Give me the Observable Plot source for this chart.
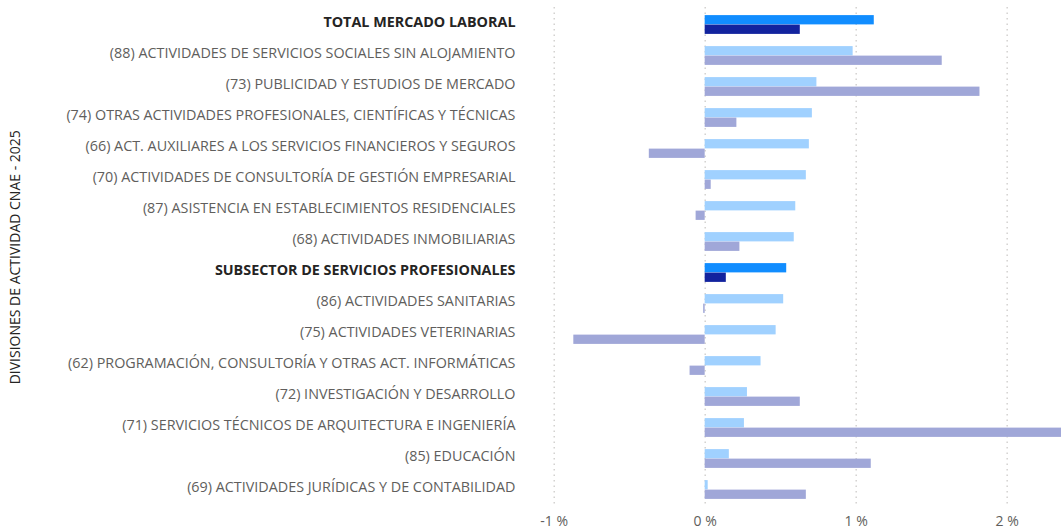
<!DOCTYPE html>
<html>
<head>
<meta charset="utf-8">
<script src="https://cdn.jsdelivr.net/npm/d3@7"></script>
<script src="https://cdn.jsdelivr.net/npm/@observablehq/plot@0.6"></script>
<style>
  html, body { margin: 0; padding: 0; background: #ffffff; }
  #chart { width: 1061px; height: 529px; overflow: hidden; }
</style>
</head>
<body>
<div id="chart"></div>
<script>
const categories = [
  "TOTAL MERCADO LABORAL",
  "(88) ACTIVIDADES DE SERVICIOS SOCIALES SIN ALOJAMIENTO",
  "(73) PUBLICIDAD Y ESTUDIOS DE MERCADO",
  "(74) OTRAS ACTIVIDADES PROFESIONALES, CIENTÍFICAS Y TÉCNICAS",
  "(66) ACT. AUXILIARES A LOS SERVICIOS FINANCIEROS Y SEGUROS",
  "(70) ACTIVIDADES DE CONSULTORÍA DE GESTIÓN EMPRESARIAL",
  "(87) ASISTENCIA EN ESTABLECIMIENTOS RESIDENCIALES",
  "(68) ACTIVIDADES INMOBILIARIAS",
  "SUBSECTOR DE SERVICIOS PROFESIONALES",
  "(86) ACTIVIDADES SANITARIAS",
  "(75) ACTIVIDADES VETERINARIAS",
  "(62) PROGRAMACIÓN, CONSULTORÍA Y OTRAS ACT. INFORMÁTICAS",
  "(72) INVESTIGACIÓN Y DESARROLLO",
  "(71) SERVICIOS TÉCNICOS DE ARQUITECTURA E INGENIERÍA",
  "(85) EDUCACIÓN",
  "(69) ACTIVIDADES JURÍDICAS Y DE CONTABILIDAD"
];
const totals = ["TOTAL MERCADO LABORAL", "SUBSECTOR DE SERVICIOS PROFESIONALES"];
// top bar of each pair (%)
const seriesTop = [1.12, 0.98, 0.74, 0.71, 0.69, 0.67, 0.60, 0.59, 0.54, 0.52, 0.47, 0.37, 0.28, 0.26, 0.16, 0.02];
// bottom bar of each pair (%)
const seriesBottom = [0.63, 1.57, 1.82, 0.21, -0.37, 0.04, -0.06, 0.23, 0.14, -0.01, -0.87, -0.10, 0.63, 2.50, 1.10, 0.67];
const xTicks = [-1, 0, 1, 2];
const yTitle = "DIVISIONES DE ACTIVIDAD CNAE - 2025";

const colorTopHi = "#118DFF", colorBottomHi = "#12239E";
const colorTop = "#A0D1FF", colorBottom = "#A0A7D8";

const rows = categories.map((c, i) => ({cat: c, top: seriesTop[i], bottom: seriesBottom[i], hi: totals.includes(c)}));

const W = 1061, H = 529;
const mL = 525, mT = 7, mB = 22.5, mR = 0;
const step = (H - mT - mB) / categories.length;
const outer = 6.1;
const half = step / 2;
const font = "'Open Sans', 'Noto Sans', sans-serif";

const plot = Plot.plot({
  width: W, height: H,
  marginLeft: mL, marginRight: mR, marginTop: mT, marginBottom: mB,
  style: {fontFamily: font, background: "#ffffff"},
  x: {domain: [-1.19, 2.36]},
  y: {domain: categories, padding: 0, axis: null},
  marks: [
    Plot.gridX(xTicks, {stroke: "#C8C6C4", strokeOpacity: 1, strokeDasharray: "1.5,4", strokeWidth: 1.2}),
    Plot.barX(rows, {x: "top", y: "cat", insetTop: outer, insetBottom: half, fill: d => d.hi ? colorTopHi : colorTop, clip: true}),
    Plot.barX(rows, {x: "bottom", y: "cat", insetTop: half, insetBottom: outer, fill: d => d.hi ? colorBottomHi : colorBottom, clip: true}),
    Plot.axisX(xTicks, {tickSize: 0, tickPadding: 9, tickFormat: d => `${d} %`, fontSize: 14, fill: "#605E5C", label: null}),
    Plot.text(rows.filter(d => !d.hi), {y: "cat", text: "cat", frameAnchor: "left", textAnchor: "end", dx: -10, dy: -2.5, fontSize: 14.35, fill: "#605E5C"}),
    Plot.text(rows.filter(d => d.hi), {y: "cat", text: "cat", frameAnchor: "left", textAnchor: "end", dx: -10, dy: -2.5, fontSize: 14.35, fontWeight: "bold", fill: "#252423"}),
    Plot.text([yTitle], {frameAnchor: "left", textAnchor: "middle", dx: -510, rotate: -90, fontSize: 14, fill: "#252423", text: d => d})
  ]
});
document.getElementById("chart").appendChild(plot);
</script>
</body>
</html>
